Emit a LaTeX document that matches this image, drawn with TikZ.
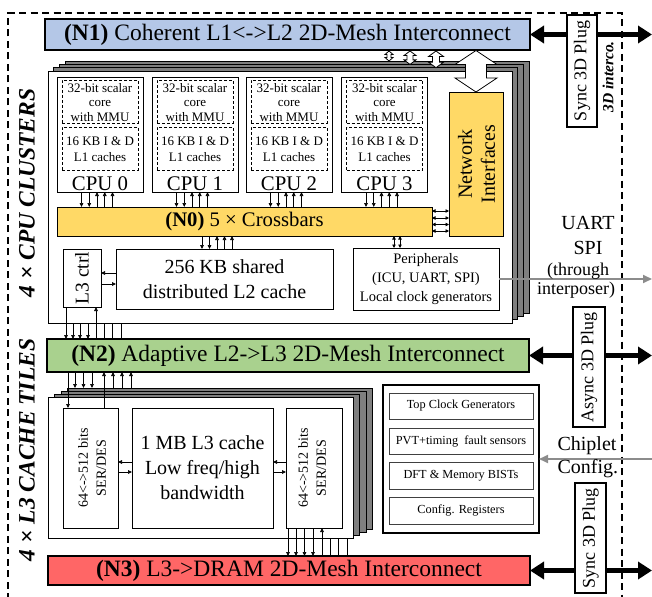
\documentclass[tikz,border=0pt]{standalone}
\usepackage{fontspec}
\setmainfont{Liberation Serif}
\usetikzlibrary{arrows.meta}
\definecolor{nblue}{HTML}{B4C7E7}
\definecolor{nyellow}{HTML}{FFD966}
\definecolor{ngreen}{HTML}{A9D18E}
\definecolor{nred}{HTML}{FF6666}
\definecolor{lgray}{HTML}{7F7F7F}
\definecolor{agray}{HTML}{8C8C8C}
\newcommand\myfs[2]{\fontsize{#1}{#2}\selectfont}
\newcommand\blockarr[6]{%
  \draw[line width=0.8pt, fill=white] (#1,#2) -- ({#1+#4},{#2+#6}) -- ({#1+#5},{#2+#6}) -- ({#1+#5},{#3-#6}) -- ({#1+#4},{#3-#6}) -- (#1,#3) -- ({#1-#4},{#3-#6}) -- ({#1-#5},{#3-#6}) -- ({#1-#5},{#2+#6}) -- ({#1-#4},{#2+#6}) -- cycle;}
\begin{document}
\begin{tikzpicture}[x=1pt,y=-1pt,
  box/.style={draw=black, line width=0.8pt, inner sep=0pt, outer sep=0pt, fill=white, align=center},
  netbox/.style={draw=black, line width=1.4pt, inner sep=0pt, outer sep=0pt, font=\myfs{23.5}{28}},
  sa/.style={line width=0.7pt, -{Triangle[length=4pt,width=3.6pt]}},
  dsa/.style={line width=0.7pt, {Triangle[length=3.5pt,width=3.4pt]}-{Triangle[length=3.5pt,width=3.4pt]}},
  plainline/.style={line width=0.7pt},
  bigarrow/.style={line width=4.2pt, {Triangle[length=14pt,width=17pt]}-{Triangle[length=14pt,width=17pt]}},
  grayarrow/.style={draw=agray, line width=1.8pt, -{Triangle[length=9pt,width=8pt]}},
  plug/.style={draw=black, line width=1.8pt, fill=white, inner sep=0pt, outer sep=0pt, font=\myfs{18}{20}},
  layer/.style={draw=black, line width=0.8pt, fill=lgray, inner sep=0pt, outer sep=0pt},
  dashbox/.style={draw=black, line width=0.7pt, dash pattern=on 3pt off 2pt, inner sep=0pt, outer sep=0pt},
  cfgrow/.style={draw=black!75, line width=1pt, inner sep=0pt, outer sep=0pt, fill=white, font=\myfs{12.3}{14}},
]
\useasboundingbox (0,0) rectangle (652,596);
\coordinate (R) at (652,0);

% outer dashed border
\draw[line width=1.8pt, dash pattern=on 7pt off 4.5pt] (8,600) -- (8,13) -- (622,13) -- (622,600);

% left labels
\node[rotate=90, font=\myfs{23.5}{28}\bfseries\itshape] (labcpu) at (27,193) {4 × CPU CLUSTERS};
\node[rotate=90, font=\myfs{23.5}{28}\bfseries\itshape] (labl3) at (27,450) {4 × L3 CACHE TILES};

% N1
\node[netbox, fill=nblue, minimum width=485pt, minimum height=31pt] (n1) at (287.5,34.5) {\textbf{(N1)} Coherent L1<->L2 2D-Mesh Interconnect};

% cluster stack
\foreach \k in {3,2,1} \node[layer, minimum width=464pt, minimum height=252pt] (cl\k) at ({280+5.7*\k},{197-3.3*\k}) {};
\node[box, minimum width=464pt, minimum height=252pt] (clfront) at (280,197) {};

% CPUs
\foreach \i/\cx in {0/100,1/195,2/289,3/384.5} {
  \node[box, minimum width=86pt, minimum height=115pt] (cpu\i) at (\cx,134.5) {};
  \node[dashbox, minimum width=76pt, minimum height=43pt] (core\i) at (\cx,101.5) {};
  \node[dashbox, minimum width=76pt, minimum height=43pt] (l1c\i) at (\cx,148.5) {};
  \node[font=\myfs{13}{14.5}, align=center, inner sep=0pt] (coret\i) at (\cx,102.5) {32-bit scalar\\core\\with MMU};
  \node[font=\myfs{13}{16}, align=center, inner sep=0pt] (l1t\i) at (\cx,149.5) {16 KB I \& D\\L1 caches};
  \node[font=\myfs{20.8}{24}, inner sep=0pt] (cput\i) at (\cx,183.5) {CPU \i};
}

% crossbar, NI, L2, L3 ctrl, peripherals
\node[box, fill=nyellow, minimum width=375pt, minimum height=29pt, font=\myfs{20.7}{24}] (xbar) at (244.5,221.5) {\textbf{(N0)} 5 × Crossbars};
\node[box, fill=nyellow, minimum width=54pt, minimum height=144pt] (ni) at (476,164) {};
\node[rotate=90, font=\myfs{20}{23}, align=center] (nit) at (476.5,164) {Network\\Interfaces};
\node[box, minimum width=217pt, minimum height=60pt, font=\myfs{20}{25}] (l2) at (224.5,279) {256 KB shared\\distributed L2 cache};
\node[box, minimum width=38pt, minimum height=58pt] (l3c) at (82,278) {};
\node[rotate=90, font=\myfs{19.5}{22}] (l3ct) at (82,278) {L3 ctrl};
\node[box, minimum width=146pt, minimum height=62pt, font=\myfs{14.5}{19}] (per) at (426,279) {Peripherals\\(ICU, UART, SPI)\\Local clock generators};

% block arrows N1 <-> clusters
\blockarr{389}{51}{61}{4}{2}{3.5}
\blockarr{410}{51}{64.4}{6}{3}{4.5}
\blockarr{436}{51}{67.7}{7.5}{3.5}{5.5}
\blockarr{476}{50.5}{92}{21}{10.5}{14}

% CPU -> crossbar arrows
\foreach \i/\cx in {0/100,1/195,2/289,3/384.5} {
  \foreach \o in {-18.5,-10.75} {
    \coordinate (t) at ({\cx+\o},0);
    \draw[sa] (cpu\i.south -| t) -- (xbar.north -| t);
  }
  \foreach \o in {-3,4.75,12.5} {
    \coordinate (t) at ({\cx+\o},0);
    \draw[sa] (xbar.north -| t) -- (cpu\i.south -| t);
  }
}
% crossbar <-> L2
\foreach \x in {202,209.5} { \coordinate (t) at (\x,0); \draw[sa] (xbar.south -| t) -- (l2.north -| t); }
\foreach \x in {217,224.5,232} { \coordinate (t) at (\x,0); \draw[sa] (l2.north -| t) -- (xbar.south -| t); }
% crossbar <-> peripherals
\foreach \x in {394,400} { \coordinate (t) at (\x,0); \draw[dsa] (xbar.south -| t) -- (per.north -| t); }
% crossbar <-> NI
\foreach \y in {211,218,224.5,231} { \coordinate (t) at (0,\y); \draw[dsa] (xbar.east |- t) -- (ni.west |- t); }
% L3 ctrl <-> L2
\coordinate (t1) at (0,273); \draw[sa] (l2.west |- t1) -- (l3c.east |- t1);
\coordinate (t2) at (0,284); \draw[sa] (l3c.east |- t2) -- (l2.west |- t2);

% UART arrow
\draw[grayarrow] (per.east) -- (per.east -| R);
\node[font=\myfs{20}{24}] (uart) at (588,223) {UART};
\node[font=\myfs{20}{24}] (spi) at (588,248) {SPI};
\node[font=\myfs{18}{22}] (thr) at (578,271) {(through};
\node[font=\myfs{18}{22}] (intp) at (576,290) {interposer)};

% N2
\node[netbox, fill=ngreen, minimum width=482pt, minimum height=33pt] (n2) at (288,355.5) {\textbf{(N2)} Adaptive L2->L3 2D-Mesh Interconnect};

% cluster -> N2
\coordinate (t) at (66,0); \draw[sa] (l3c.south -| t) -- (n2.north -| t);
\coordinate (t) at (96,0); \draw[sa] (n2.north -| t) -- (l3c.south -| t);
\foreach \x in {73,80,88} { \coordinate (t) at (\x,0); \draw[sa] (clfront.south -| t) -- (n2.north -| t); }
\foreach \x in {104,112.5,121} { \coordinate (t) at (\x,0); \draw[plainline] (clfront.south -| t) -- (n2.north -| t); }

% L3 tile stack
\foreach \k in {3,2,1} \node[layer, minimum width=305pt, minimum height=141pt] (tl\k) at ({200.5+6.5*\k},{467.5-3*\k}) {};
\node[box, minimum width=305pt, minimum height=141pt] (tfront) at (200.5,467.5) {};
\node[box, minimum width=55pt, minimum height=120pt] (sdl) at (90.5,468) {};
\node[rotate=90, font=\myfs{14}{18}, align=center] (sdlt) at (92,468) {64<->512 bits\\SER/DES};
\node[box, minimum width=141pt, minimum height=120pt, font=\myfs{20}{25}] (l3) at (202.5,468) {1 MB L3 cache\\Low freq/high\\bandwidth};
\node[box, minimum width=56pt, minimum height=120pt] (sdr) at (314,468) {};
\node[rotate=90, font=\myfs{14}{18}, align=center] (sdrt) at (312,468) {64<->512 bits\\SER/DES};

\coordinate (t1) at (0,462); \coordinate (t2) at (0,472);
\draw[sa] (l3.west |- t1) -- (sdl.east |- t1);
\draw[sa] (sdl.east |- t2) -- (l3.west |- t2);
\draw[sa] (sdr.west |- t1) -- (l3.east |- t1);
\draw[sa] (l3.east |- t2) -- (sdr.west |- t2);

% N2 -> tiles
\coordinate (t) at (68,0); \draw[sa] (n2.south -| t) -- (sdl.north -| t);
\coordinate (t) at (104,0); \draw[sa] (sdl.north -| t) -- (n2.south -| t);
\foreach \x in {75,83.5,92} { \coordinate (t) at (\x,0); \draw[sa] (n2.south -| t) -- (tl3.north -| t); }
\foreach \x in {113,122,131} { \coordinate (t) at (\x,0); \draw[sa] (tl3.north -| t) -- (n2.south -| t); }

% N3
\node[netbox, fill=nred, minimum width=482pt, minimum height=29pt] (n3) at (289,570.5) {\textbf{(N3)} L3->DRAM 2D-Mesh Interconnect};

% tiles -> N3
\foreach \x in {288,296,304.5,313} { \coordinate (t) at (\x,0); \draw[sa] (sdr.south -| t) -- (n3.north -| t); }
\coordinate (t) at (322,0); \draw[sa] (n3.north -| t) -- (sdr.south -| t);
\foreach \x in {330,338.5,347} { \coordinate (t) at (\x,0); \draw[plainline] (tfront.south -| t) -- (n3.north -| t); }

% config box
\node[box, line width=1.4pt, minimum width=156pt, minimum height=148pt] (cfg) at (461,459) {};
\node[cfgrow, minimum width=144pt, minimum height=26pt] (c1) at (461,406) {Top Clock Generators};
\node[cfgrow, minimum width=144pt, minimum height=26pt] (c2) at (461,441) {PVT+timing\ \ fault sensors};
\node[cfgrow, minimum width=144pt, minimum height=27pt] (c3) at (461,475.5) {DFT \& Memory BISTs};
\node[cfgrow, minimum width=144pt, minimum height=27pt] (c4) at (461,510.5) {Config. Registers};
\draw[grayarrow] (cfg.east -| R) -- (cfg.east);
\node[font=\myfs{20}{23}, align=left, anchor=west] (chip) at (554,457) {Chiplet\\Config.};

% thick arrows and plugs
\draw[bigarrow] (n1.east) -- (n1.east -| R);
\draw[bigarrow] (n2.east) -- (n2.east -| R);
\draw[bigarrow] (n3.east) -- (n3.east -| R);
\node[plug, rotate=90, minimum width=112pt, minimum height=30pt] (p1) at (582,71) {Sync 3D Plug};
\node[plug, rotate=90, minimum width=120pt, minimum height=32pt] (p2) at (589,367) {Async 3D Plug};
\node[plug, rotate=90, minimum width=110pt, minimum height=31pt] (p3) at (590.5,538) {Sync 3D Plug};
\node[rotate=90, font=\myfs{15.5}{18}\bfseries\itshape] (interco) at (608,77) {3D interco.};
\end{tikzpicture}
\end{document}
